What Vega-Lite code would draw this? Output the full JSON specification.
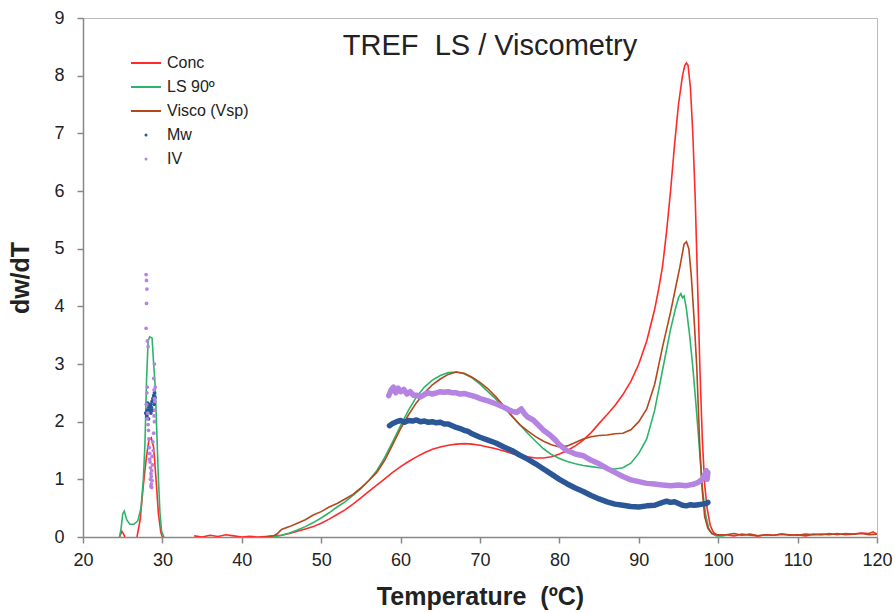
{
  "$schema": "https://vega.github.io/schema/vega-lite/v6.json",
  "width": 794,
  "height": 519,
  "autosize": {"type": "none"},
  "padding": {"left": 83, "top": 18, "right": 18, "bottom": 76},
  "background": "white",
  "config": {
    "view": {"stroke": "#bbbbbb", "strokeWidth": 1},
    "font": "Liberation Sans"
  },
  "title": {
    "text": "TREF\u00a0 LS / Viscometry",
    "offset": -52,
    "dx": 10,
    "fontSize": 29,
    "fontWeight": "normal",
    "font": "Liberation Sans",
    "color": "#222222",
    "anchor": "middle"
  },
  "datasets": {
    "curves": [
      {"s": "Conc", "g": "a0", "T": 24.6, "v": 0.0},
      {"s": "Conc", "g": "a0", "T": 24.9, "v": 0.1},
      {"s": "Conc", "g": "a0", "T": 25.3, "v": 0.0},
      {"s": "Conc", "g": "a", "T": 26.8, "v": 0.0},
      {"s": "Conc", "g": "a", "T": 27.2, "v": 0.3},
      {"s": "Conc", "g": "a", "T": 27.6, "v": 0.9},
      {"s": "Conc", "g": "a", "T": 28.0, "v": 1.4},
      {"s": "Conc", "g": "a", "T": 28.3, "v": 1.68},
      {"s": "Conc", "g": "a", "T": 28.6, "v": 1.72},
      {"s": "Conc", "g": "a", "T": 28.9, "v": 1.55},
      {"s": "Conc", "g": "a", "T": 29.2, "v": 1.0},
      {"s": "Conc", "g": "a", "T": 29.5, "v": 0.4},
      {"s": "Conc", "g": "a", "T": 29.8, "v": 0.08},
      {"s": "Conc", "g": "a", "T": 30.0, "v": 0.0},
      {"s": "Conc", "g": "b", "T": 34, "v": 0.02},
      {"s": "Conc", "g": "b", "T": 35, "v": 0.0},
      {"s": "Conc", "g": "b", "T": 36, "v": 0.03},
      {"s": "Conc", "g": "b", "T": 37, "v": 0.01},
      {"s": "Conc", "g": "b", "T": 38, "v": 0.04},
      {"s": "Conc", "g": "b", "T": 39, "v": 0.02},
      {"s": "Conc", "g": "b", "T": 40, "v": 0.0},
      {"s": "Conc", "g": "b", "T": 41, "v": 0.01},
      {"s": "Conc", "g": "b", "T": 42, "v": 0.0},
      {"s": "Conc", "g": "b", "T": 43, "v": 0.01},
      {"s": "Conc", "g": "b", "T": 44, "v": 0.02},
      {"s": "Conc", "g": "b", "T": 45, "v": 0.03},
      {"s": "Conc", "g": "b", "T": 46, "v": 0.06},
      {"s": "Conc", "g": "b", "T": 47, "v": 0.1},
      {"s": "Conc", "g": "b", "T": 48, "v": 0.14},
      {"s": "Conc", "g": "b", "T": 49, "v": 0.18},
      {"s": "Conc", "g": "b", "T": 50, "v": 0.24},
      {"s": "Conc", "g": "b", "T": 51, "v": 0.31},
      {"s": "Conc", "g": "b", "T": 52, "v": 0.39},
      {"s": "Conc", "g": "b", "T": 53, "v": 0.47},
      {"s": "Conc", "g": "b", "T": 54, "v": 0.57},
      {"s": "Conc", "g": "b", "T": 55, "v": 0.68},
      {"s": "Conc", "g": "b", "T": 56, "v": 0.79},
      {"s": "Conc", "g": "b", "T": 57, "v": 0.9},
      {"s": "Conc", "g": "b", "T": 58, "v": 1.01},
      {"s": "Conc", "g": "b", "T": 59, "v": 1.12},
      {"s": "Conc", "g": "b", "T": 60, "v": 1.22},
      {"s": "Conc", "g": "b", "T": 61, "v": 1.31},
      {"s": "Conc", "g": "b", "T": 62, "v": 1.39},
      {"s": "Conc", "g": "b", "T": 63, "v": 1.46},
      {"s": "Conc", "g": "b", "T": 64, "v": 1.52},
      {"s": "Conc", "g": "b", "T": 65, "v": 1.56},
      {"s": "Conc", "g": "b", "T": 66, "v": 1.59},
      {"s": "Conc", "g": "b", "T": 67, "v": 1.61},
      {"s": "Conc", "g": "b", "T": 68, "v": 1.62},
      {"s": "Conc", "g": "b", "T": 69, "v": 1.61},
      {"s": "Conc", "g": "b", "T": 70, "v": 1.59},
      {"s": "Conc", "g": "b", "T": 71, "v": 1.56},
      {"s": "Conc", "g": "b", "T": 72, "v": 1.53},
      {"s": "Conc", "g": "b", "T": 73, "v": 1.49},
      {"s": "Conc", "g": "b", "T": 74, "v": 1.45},
      {"s": "Conc", "g": "b", "T": 75, "v": 1.42},
      {"s": "Conc", "g": "b", "T": 76, "v": 1.39},
      {"s": "Conc", "g": "b", "T": 77, "v": 1.37},
      {"s": "Conc", "g": "b", "T": 78, "v": 1.37},
      {"s": "Conc", "g": "b", "T": 79, "v": 1.39},
      {"s": "Conc", "g": "b", "T": 80, "v": 1.44},
      {"s": "Conc", "g": "b", "T": 81, "v": 1.5},
      {"s": "Conc", "g": "b", "T": 82, "v": 1.58},
      {"s": "Conc", "g": "b", "T": 83, "v": 1.68},
      {"s": "Conc", "g": "b", "T": 84, "v": 1.81},
      {"s": "Conc", "g": "b", "T": 85, "v": 1.97},
      {"s": "Conc", "g": "b", "T": 86, "v": 2.12},
      {"s": "Conc", "g": "b", "T": 87, "v": 2.28},
      {"s": "Conc", "g": "b", "T": 88, "v": 2.47},
      {"s": "Conc", "g": "b", "T": 89, "v": 2.7},
      {"s": "Conc", "g": "b", "T": 90, "v": 3.0},
      {"s": "Conc", "g": "b", "T": 91, "v": 3.4},
      {"s": "Conc", "g": "b", "T": 92, "v": 3.95},
      {"s": "Conc", "g": "b", "T": 92.5, "v": 4.3},
      {"s": "Conc", "g": "b", "T": 93, "v": 4.7},
      {"s": "Conc", "g": "b", "T": 93.5, "v": 5.3},
      {"s": "Conc", "g": "b", "T": 94, "v": 6.0},
      {"s": "Conc", "g": "b", "T": 94.5, "v": 6.8},
      {"s": "Conc", "g": "b", "T": 95, "v": 7.5},
      {"s": "Conc", "g": "b", "T": 95.5, "v": 8.0},
      {"s": "Conc", "g": "b", "T": 95.8, "v": 8.18},
      {"s": "Conc", "g": "b", "T": 96.0, "v": 8.22},
      {"s": "Conc", "g": "b", "T": 96.2, "v": 8.18},
      {"s": "Conc", "g": "b", "T": 96.5, "v": 7.8},
      {"s": "Conc", "g": "b", "T": 96.8, "v": 7.0},
      {"s": "Conc", "g": "b", "T": 97.1, "v": 5.9},
      {"s": "Conc", "g": "b", "T": 97.4, "v": 4.4},
      {"s": "Conc", "g": "b", "T": 97.7, "v": 2.9},
      {"s": "Conc", "g": "b", "T": 98.0, "v": 1.7},
      {"s": "Conc", "g": "b", "T": 98.3, "v": 0.9},
      {"s": "Conc", "g": "b", "T": 98.6, "v": 0.5},
      {"s": "Conc", "g": "b", "T": 99.0, "v": 0.2},
      {"s": "Conc", "g": "b", "T": 99.4, "v": 0.08},
      {"s": "Conc", "g": "b", "T": 99.8, "v": 0.04},
      {"s": "Conc", "g": "b", "T": 101, "v": 0.04},
      {"s": "Conc", "g": "b", "T": 102, "v": 0.02},
      {"s": "Conc", "g": "b", "T": 103, "v": 0.05},
      {"s": "Conc", "g": "b", "T": 104, "v": 0.03},
      {"s": "Conc", "g": "b", "T": 105, "v": 0.02},
      {"s": "Conc", "g": "b", "T": 106, "v": 0.04},
      {"s": "Conc", "g": "b", "T": 107, "v": 0.03},
      {"s": "Conc", "g": "b", "T": 108, "v": 0.05},
      {"s": "Conc", "g": "b", "T": 109, "v": 0.03},
      {"s": "Conc", "g": "b", "T": 110, "v": 0.04},
      {"s": "Conc", "g": "b", "T": 111, "v": 0.02},
      {"s": "Conc", "g": "b", "T": 112, "v": 0.05},
      {"s": "Conc", "g": "b", "T": 113, "v": 0.04},
      {"s": "Conc", "g": "b", "T": 114, "v": 0.06},
      {"s": "Conc", "g": "b", "T": 115, "v": 0.04},
      {"s": "Conc", "g": "b", "T": 116, "v": 0.06},
      {"s": "Conc", "g": "b", "T": 117, "v": 0.05},
      {"s": "Conc", "g": "b", "T": 118, "v": 0.07},
      {"s": "Conc", "g": "b", "T": 119, "v": 0.06},
      {"s": "Conc", "g": "b", "T": 119.5, "v": 0.09},
      {"s": "Conc", "g": "b", "T": 120, "v": 0.05},

      {"s": "LS 90º", "g": "a", "T": 24.6, "v": 0.0},
      {"s": "LS 90º", "g": "a", "T": 24.8, "v": 0.15},
      {"s": "LS 90º", "g": "a", "T": 25.0, "v": 0.4},
      {"s": "LS 90º", "g": "a", "T": 25.2, "v": 0.45},
      {"s": "LS 90º", "g": "a", "T": 25.5, "v": 0.3},
      {"s": "LS 90º", "g": "a", "T": 25.9, "v": 0.22},
      {"s": "LS 90º", "g": "a", "T": 26.4, "v": 0.22},
      {"s": "LS 90º", "g": "a", "T": 26.9, "v": 0.28},
      {"s": "LS 90º", "g": "a", "T": 27.3, "v": 0.5},
      {"s": "LS 90º", "g": "a", "T": 27.6, "v": 1.0},
      {"s": "LS 90º", "g": "a", "T": 27.8, "v": 1.6},
      {"s": "LS 90º", "g": "a", "T": 28.0, "v": 2.7},
      {"s": "LS 90º", "g": "a", "T": 28.2, "v": 3.4},
      {"s": "LS 90º", "g": "a", "T": 28.4, "v": 3.47},
      {"s": "LS 90º", "g": "a", "T": 28.7, "v": 3.45},
      {"s": "LS 90º", "g": "a", "T": 28.9, "v": 3.0},
      {"s": "LS 90º", "g": "a", "T": 29.1, "v": 2.6},
      {"s": "LS 90º", "g": "a", "T": 29.3, "v": 1.8},
      {"s": "LS 90º", "g": "a", "T": 29.5, "v": 1.0},
      {"s": "LS 90º", "g": "a", "T": 29.7, "v": 0.4},
      {"s": "LS 90º", "g": "a", "T": 29.9, "v": 0.1},
      {"s": "LS 90º", "g": "a", "T": 30.2, "v": 0.0},
      {"s": "LS 90º", "g": "b", "T": 44, "v": 0.0},
      {"s": "LS 90º", "g": "b", "T": 45, "v": 0.03},
      {"s": "LS 90º", "g": "b", "T": 46, "v": 0.07},
      {"s": "LS 90º", "g": "b", "T": 47, "v": 0.12},
      {"s": "LS 90º", "g": "b", "T": 48, "v": 0.18},
      {"s": "LS 90º", "g": "b", "T": 49, "v": 0.25},
      {"s": "LS 90º", "g": "b", "T": 50, "v": 0.33},
      {"s": "LS 90º", "g": "b", "T": 51, "v": 0.42},
      {"s": "LS 90º", "g": "b", "T": 52, "v": 0.52},
      {"s": "LS 90º", "g": "b", "T": 53, "v": 0.61},
      {"s": "LS 90º", "g": "b", "T": 54, "v": 0.72},
      {"s": "LS 90º", "g": "b", "T": 55, "v": 0.84},
      {"s": "LS 90º", "g": "b", "T": 56, "v": 0.98},
      {"s": "LS 90º", "g": "b", "T": 57, "v": 1.15},
      {"s": "LS 90º", "g": "b", "T": 58, "v": 1.38},
      {"s": "LS 90º", "g": "b", "T": 59, "v": 1.65},
      {"s": "LS 90º", "g": "b", "T": 60, "v": 1.93},
      {"s": "LS 90º", "g": "b", "T": 61, "v": 2.2},
      {"s": "LS 90º", "g": "b", "T": 62, "v": 2.43},
      {"s": "LS 90º", "g": "b", "T": 63, "v": 2.6},
      {"s": "LS 90º", "g": "b", "T": 64, "v": 2.72},
      {"s": "LS 90º", "g": "b", "T": 65, "v": 2.8},
      {"s": "LS 90º", "g": "b", "T": 66, "v": 2.85},
      {"s": "LS 90º", "g": "b", "T": 67, "v": 2.86},
      {"s": "LS 90º", "g": "b", "T": 68, "v": 2.83},
      {"s": "LS 90º", "g": "b", "T": 69, "v": 2.76},
      {"s": "LS 90º", "g": "b", "T": 70, "v": 2.65},
      {"s": "LS 90º", "g": "b", "T": 71, "v": 2.52},
      {"s": "LS 90º", "g": "b", "T": 72, "v": 2.39},
      {"s": "LS 90º", "g": "b", "T": 73, "v": 2.25},
      {"s": "LS 90º", "g": "b", "T": 74, "v": 2.1},
      {"s": "LS 90º", "g": "b", "T": 75, "v": 1.95},
      {"s": "LS 90º", "g": "b", "T": 76, "v": 1.8},
      {"s": "LS 90º", "g": "b", "T": 77, "v": 1.66},
      {"s": "LS 90º", "g": "b", "T": 78, "v": 1.53},
      {"s": "LS 90º", "g": "b", "T": 79, "v": 1.43},
      {"s": "LS 90º", "g": "b", "T": 80, "v": 1.36},
      {"s": "LS 90º", "g": "b", "T": 81, "v": 1.31},
      {"s": "LS 90º", "g": "b", "T": 82, "v": 1.27},
      {"s": "LS 90º", "g": "b", "T": 83, "v": 1.24},
      {"s": "LS 90º", "g": "b", "T": 84, "v": 1.22},
      {"s": "LS 90º", "g": "b", "T": 85, "v": 1.2},
      {"s": "LS 90º", "g": "b", "T": 86, "v": 1.19},
      {"s": "LS 90º", "g": "b", "T": 87, "v": 1.18},
      {"s": "LS 90º", "g": "b", "T": 88, "v": 1.2},
      {"s": "LS 90º", "g": "b", "T": 89, "v": 1.28},
      {"s": "LS 90º", "g": "b", "T": 90, "v": 1.45},
      {"s": "LS 90º", "g": "b", "T": 91, "v": 1.7},
      {"s": "LS 90º", "g": "b", "T": 92, "v": 2.2},
      {"s": "LS 90º", "g": "b", "T": 93, "v": 2.9},
      {"s": "LS 90º", "g": "b", "T": 94, "v": 3.6},
      {"s": "LS 90º", "g": "b", "T": 94.6, "v": 3.95},
      {"s": "LS 90º", "g": "b", "T": 95.0, "v": 4.15},
      {"s": "LS 90º", "g": "b", "T": 95.3, "v": 4.22},
      {"s": "LS 90º", "g": "b", "T": 95.5, "v": 4.15},
      {"s": "LS 90º", "g": "b", "T": 95.7, "v": 4.18},
      {"s": "LS 90º", "g": "b", "T": 96.0, "v": 3.95},
      {"s": "LS 90º", "g": "b", "T": 96.4, "v": 3.5},
      {"s": "LS 90º", "g": "b", "T": 96.8, "v": 2.95},
      {"s": "LS 90º", "g": "b", "T": 97.2, "v": 2.3},
      {"s": "LS 90º", "g": "b", "T": 97.6, "v": 1.6},
      {"s": "LS 90º", "g": "b", "T": 98.0, "v": 0.85},
      {"s": "LS 90º", "g": "b", "T": 98.4, "v": 0.4},
      {"s": "LS 90º", "g": "b", "T": 98.8, "v": 0.15},
      {"s": "LS 90º", "g": "b", "T": 99.2, "v": 0.06},
      {"s": "LS 90º", "g": "b", "T": 99.8, "v": 0.02},
      {"s": "LS 90º", "g": "b", "T": 100.5, "v": 0.02},
      {"s": "LS 90º", "g": "b", "T": 101, "v": 0.03},

      {"s": "Visco (Vsp)", "g": "b", "T": 43, "v": 0.0},
      {"s": "Visco (Vsp)", "g": "b", "T": 44, "v": 0.02},
      {"s": "Visco (Vsp)", "g": "b", "T": 44.5, "v": 0.06},
      {"s": "Visco (Vsp)", "g": "b", "T": 45, "v": 0.13},
      {"s": "Visco (Vsp)", "g": "b", "T": 46, "v": 0.18},
      {"s": "Visco (Vsp)", "g": "b", "T": 47, "v": 0.24},
      {"s": "Visco (Vsp)", "g": "b", "T": 48, "v": 0.3},
      {"s": "Visco (Vsp)", "g": "b", "T": 49, "v": 0.38},
      {"s": "Visco (Vsp)", "g": "b", "T": 50, "v": 0.44},
      {"s": "Visco (Vsp)", "g": "b", "T": 51, "v": 0.52},
      {"s": "Visco (Vsp)", "g": "b", "T": 52, "v": 0.58},
      {"s": "Visco (Vsp)", "g": "b", "T": 53, "v": 0.66},
      {"s": "Visco (Vsp)", "g": "b", "T": 54, "v": 0.74},
      {"s": "Visco (Vsp)", "g": "b", "T": 55, "v": 0.85},
      {"s": "Visco (Vsp)", "g": "b", "T": 56, "v": 0.98},
      {"s": "Visco (Vsp)", "g": "b", "T": 57, "v": 1.12},
      {"s": "Visco (Vsp)", "g": "b", "T": 58, "v": 1.33},
      {"s": "Visco (Vsp)", "g": "b", "T": 59, "v": 1.6},
      {"s": "Visco (Vsp)", "g": "b", "T": 60, "v": 1.88},
      {"s": "Visco (Vsp)", "g": "b", "T": 61, "v": 2.12},
      {"s": "Visco (Vsp)", "g": "b", "T": 62, "v": 2.33},
      {"s": "Visco (Vsp)", "g": "b", "T": 63, "v": 2.5},
      {"s": "Visco (Vsp)", "g": "b", "T": 64, "v": 2.64},
      {"s": "Visco (Vsp)", "g": "b", "T": 65, "v": 2.74},
      {"s": "Visco (Vsp)", "g": "b", "T": 66, "v": 2.82},
      {"s": "Visco (Vsp)", "g": "b", "T": 67, "v": 2.86},
      {"s": "Visco (Vsp)", "g": "b", "T": 68, "v": 2.84},
      {"s": "Visco (Vsp)", "g": "b", "T": 69, "v": 2.77},
      {"s": "Visco (Vsp)", "g": "b", "T": 70, "v": 2.68},
      {"s": "Visco (Vsp)", "g": "b", "T": 71, "v": 2.57},
      {"s": "Visco (Vsp)", "g": "b", "T": 72, "v": 2.43},
      {"s": "Visco (Vsp)", "g": "b", "T": 73, "v": 2.27},
      {"s": "Visco (Vsp)", "g": "b", "T": 74, "v": 2.1},
      {"s": "Visco (Vsp)", "g": "b", "T": 75, "v": 1.95},
      {"s": "Visco (Vsp)", "g": "b", "T": 76, "v": 1.84},
      {"s": "Visco (Vsp)", "g": "b", "T": 77, "v": 1.74},
      {"s": "Visco (Vsp)", "g": "b", "T": 78, "v": 1.66},
      {"s": "Visco (Vsp)", "g": "b", "T": 79, "v": 1.6},
      {"s": "Visco (Vsp)", "g": "b", "T": 80, "v": 1.56},
      {"s": "Visco (Vsp)", "g": "b", "T": 81, "v": 1.58},
      {"s": "Visco (Vsp)", "g": "b", "T": 82, "v": 1.64},
      {"s": "Visco (Vsp)", "g": "b", "T": 83, "v": 1.7},
      {"s": "Visco (Vsp)", "g": "b", "T": 84, "v": 1.74},
      {"s": "Visco (Vsp)", "g": "b", "T": 85, "v": 1.76},
      {"s": "Visco (Vsp)", "g": "b", "T": 86, "v": 1.77},
      {"s": "Visco (Vsp)", "g": "b", "T": 87, "v": 1.79},
      {"s": "Visco (Vsp)", "g": "b", "T": 88, "v": 1.8},
      {"s": "Visco (Vsp)", "g": "b", "T": 89, "v": 1.86},
      {"s": "Visco (Vsp)", "g": "b", "T": 90, "v": 2.0},
      {"s": "Visco (Vsp)", "g": "b", "T": 91, "v": 2.22},
      {"s": "Visco (Vsp)", "g": "b", "T": 92, "v": 2.65},
      {"s": "Visco (Vsp)", "g": "b", "T": 93, "v": 3.3},
      {"s": "Visco (Vsp)", "g": "b", "T": 94, "v": 3.9},
      {"s": "Visco (Vsp)", "g": "b", "T": 94.6, "v": 4.3},
      {"s": "Visco (Vsp)", "g": "b", "T": 95.2, "v": 4.7},
      {"s": "Visco (Vsp)", "g": "b", "T": 95.7, "v": 5.08},
      {"s": "Visco (Vsp)", "g": "b", "T": 96.0, "v": 5.12},
      {"s": "Visco (Vsp)", "g": "b", "T": 96.3, "v": 5.0},
      {"s": "Visco (Vsp)", "g": "b", "T": 96.6, "v": 4.55},
      {"s": "Visco (Vsp)", "g": "b", "T": 97.0, "v": 3.7},
      {"s": "Visco (Vsp)", "g": "b", "T": 97.3, "v": 2.95},
      {"s": "Visco (Vsp)", "g": "b", "T": 97.7, "v": 1.5},
      {"s": "Visco (Vsp)", "g": "b", "T": 98.0, "v": 0.8},
      {"s": "Visco (Vsp)", "g": "b", "T": 98.3, "v": 0.35},
      {"s": "Visco (Vsp)", "g": "b", "T": 98.7, "v": 0.15},
      {"s": "Visco (Vsp)", "g": "b", "T": 99.2, "v": 0.06},
      {"s": "Visco (Vsp)", "g": "b", "T": 100, "v": 0.03},
      {"s": "Visco (Vsp)", "g": "b", "T": 101, "v": 0.04},
      {"s": "Visco (Vsp)", "g": "b", "T": 102, "v": 0.06},
      {"s": "Visco (Vsp)", "g": "b", "T": 103, "v": 0.03},
      {"s": "Visco (Vsp)", "g": "b", "T": 104, "v": 0.05},
      {"s": "Visco (Vsp)", "g": "b", "T": 105, "v": 0.02},
      {"s": "Visco (Vsp)", "g": "b", "T": 106, "v": 0.04},
      {"s": "Visco (Vsp)", "g": "b", "T": 107, "v": 0.03},
      {"s": "Visco (Vsp)", "g": "b", "T": 108, "v": 0.05},
      {"s": "Visco (Vsp)", "g": "b", "T": 109, "v": 0.04},
      {"s": "Visco (Vsp)", "g": "b", "T": 110, "v": 0.03},
      {"s": "Visco (Vsp)", "g": "b", "T": 111, "v": 0.05},
      {"s": "Visco (Vsp)", "g": "b", "T": 112, "v": 0.04},
      {"s": "Visco (Vsp)", "g": "b", "T": 113, "v": 0.05},
      {"s": "Visco (Vsp)", "g": "b", "T": 114, "v": 0.04},
      {"s": "Visco (Vsp)", "g": "b", "T": 115, "v": 0.06},
      {"s": "Visco (Vsp)", "g": "b", "T": 116, "v": 0.04},
      {"s": "Visco (Vsp)", "g": "b", "T": 117, "v": 0.05},
      {"s": "Visco (Vsp)", "g": "b", "T": 118, "v": 0.06},
      {"s": "Visco (Vsp)", "g": "b", "T": 119, "v": 0.04},
      {"s": "Visco (Vsp)", "g": "b", "T": 120, "v": 0.05}
    ],
    "bands": [
      {"s": "Mw", "T": 58.6, "v": 1.93},
      {"s": "Mw", "T": 59.0, "v": 1.97},
      {"s": "Mw", "T": 59.5, "v": 2.0},
      {"s": "Mw", "T": 60.0, "v": 2.02},
      {"s": "Mw", "T": 60.5, "v": 1.99},
      {"s": "Mw", "T": 61.0, "v": 2.02},
      {"s": "Mw", "T": 61.5, "v": 2.01},
      {"s": "Mw", "T": 62.0, "v": 2.03},
      {"s": "Mw", "T": 62.5, "v": 2.0},
      {"s": "Mw", "T": 63.0, "v": 2.01},
      {"s": "Mw", "T": 63.5, "v": 1.99},
      {"s": "Mw", "T": 64.0, "v": 2.0},
      {"s": "Mw", "T": 64.5, "v": 1.98},
      {"s": "Mw", "T": 65.0, "v": 1.99},
      {"s": "Mw", "T": 65.5, "v": 1.96},
      {"s": "Mw", "T": 66.0, "v": 1.96},
      {"s": "Mw", "T": 66.5, "v": 1.93},
      {"s": "Mw", "T": 67.0, "v": 1.9},
      {"s": "Mw", "T": 67.5, "v": 1.88},
      {"s": "Mw", "T": 68.0, "v": 1.85},
      {"s": "Mw", "T": 68.5, "v": 1.83},
      {"s": "Mw", "T": 69.0, "v": 1.79},
      {"s": "Mw", "T": 69.5, "v": 1.76},
      {"s": "Mw", "T": 70, "v": 1.73},
      {"s": "Mw", "T": 71, "v": 1.68},
      {"s": "Mw", "T": 72, "v": 1.63},
      {"s": "Mw", "T": 73, "v": 1.56},
      {"s": "Mw", "T": 74, "v": 1.5},
      {"s": "Mw", "T": 75, "v": 1.42},
      {"s": "Mw", "T": 76, "v": 1.35},
      {"s": "Mw", "T": 77, "v": 1.27},
      {"s": "Mw", "T": 78, "v": 1.18},
      {"s": "Mw", "T": 79, "v": 1.09},
      {"s": "Mw", "T": 80, "v": 1.0},
      {"s": "Mw", "T": 81, "v": 0.92},
      {"s": "Mw", "T": 82, "v": 0.85},
      {"s": "Mw", "T": 83, "v": 0.79},
      {"s": "Mw", "T": 84, "v": 0.72},
      {"s": "Mw", "T": 85, "v": 0.66},
      {"s": "Mw", "T": 86, "v": 0.61},
      {"s": "Mw", "T": 87, "v": 0.57},
      {"s": "Mw", "T": 88, "v": 0.55},
      {"s": "Mw", "T": 89, "v": 0.53},
      {"s": "Mw", "T": 90, "v": 0.52},
      {"s": "Mw", "T": 91, "v": 0.54},
      {"s": "Mw", "T": 92, "v": 0.55},
      {"s": "Mw", "T": 93, "v": 0.6},
      {"s": "Mw", "T": 93.5, "v": 0.62},
      {"s": "Mw", "T": 94, "v": 0.6},
      {"s": "Mw", "T": 94.5, "v": 0.61},
      {"s": "Mw", "T": 95, "v": 0.58},
      {"s": "Mw", "T": 95.5, "v": 0.55},
      {"s": "Mw", "T": 96, "v": 0.54},
      {"s": "Mw", "T": 96.5, "v": 0.56},
      {"s": "Mw", "T": 97, "v": 0.55},
      {"s": "Mw", "T": 97.5, "v": 0.56},
      {"s": "Mw", "T": 98, "v": 0.57},
      {"s": "Mw", "T": 98.5, "v": 0.58},
      {"s": "Mw", "T": 98.7, "v": 0.6},

      {"s": "IV", "T": 58.5, "v": 2.45},
      {"s": "IV", "T": 58.8, "v": 2.55},
      {"s": "IV", "T": 59.1, "v": 2.6},
      {"s": "IV", "T": 59.4, "v": 2.5},
      {"s": "IV", "T": 59.7, "v": 2.58},
      {"s": "IV", "T": 60.0, "v": 2.52},
      {"s": "IV", "T": 60.4, "v": 2.56},
      {"s": "IV", "T": 60.8, "v": 2.48},
      {"s": "IV", "T": 61.2, "v": 2.52},
      {"s": "IV", "T": 61.6, "v": 2.46},
      {"s": "IV", "T": 62.0, "v": 2.46},
      {"s": "IV", "T": 62.5, "v": 2.43},
      {"s": "IV", "T": 63.0, "v": 2.47},
      {"s": "IV", "T": 63.5, "v": 2.5},
      {"s": "IV", "T": 64.0, "v": 2.48},
      {"s": "IV", "T": 64.5, "v": 2.5},
      {"s": "IV", "T": 65.0, "v": 2.52},
      {"s": "IV", "T": 65.5, "v": 2.51},
      {"s": "IV", "T": 66.0, "v": 2.52},
      {"s": "IV", "T": 66.5, "v": 2.5},
      {"s": "IV", "T": 67.0, "v": 2.5},
      {"s": "IV", "T": 67.5, "v": 2.48},
      {"s": "IV", "T": 68.0, "v": 2.49},
      {"s": "IV", "T": 68.5, "v": 2.47},
      {"s": "IV", "T": 69.0, "v": 2.45},
      {"s": "IV", "T": 69.5, "v": 2.43},
      {"s": "IV", "T": 70, "v": 2.4},
      {"s": "IV", "T": 71, "v": 2.36},
      {"s": "IV", "T": 72, "v": 2.31},
      {"s": "IV", "T": 73, "v": 2.25},
      {"s": "IV", "T": 74, "v": 2.18},
      {"s": "IV", "T": 74.6, "v": 2.16},
      {"s": "IV", "T": 75.2, "v": 2.22},
      {"s": "IV", "T": 75.6, "v": 2.14},
      {"s": "IV", "T": 76, "v": 2.08},
      {"s": "IV", "T": 76.7, "v": 2.03},
      {"s": "IV", "T": 77.5, "v": 1.92},
      {"s": "IV", "T": 78, "v": 1.85},
      {"s": "IV", "T": 78.8, "v": 1.77},
      {"s": "IV", "T": 79.5, "v": 1.68},
      {"s": "IV", "T": 80, "v": 1.6},
      {"s": "IV", "T": 80.9, "v": 1.5},
      {"s": "IV", "T": 81.5, "v": 1.47},
      {"s": "IV", "T": 82, "v": 1.44},
      {"s": "IV", "T": 83, "v": 1.41},
      {"s": "IV", "T": 84, "v": 1.33},
      {"s": "IV", "T": 85, "v": 1.27},
      {"s": "IV", "T": 86, "v": 1.19},
      {"s": "IV", "T": 87, "v": 1.12},
      {"s": "IV", "T": 88, "v": 1.05},
      {"s": "IV", "T": 89, "v": 0.99},
      {"s": "IV", "T": 90, "v": 0.96},
      {"s": "IV", "T": 91, "v": 0.93},
      {"s": "IV", "T": 92, "v": 0.92},
      {"s": "IV", "T": 93, "v": 0.9},
      {"s": "IV", "T": 94, "v": 0.89},
      {"s": "IV", "T": 95, "v": 0.9},
      {"s": "IV", "T": 96, "v": 0.89},
      {"s": "IV", "T": 97, "v": 0.92},
      {"s": "IV", "T": 97.5, "v": 0.95},
      {"s": "IV", "T": 98, "v": 1.0},
      {"s": "IV", "T": 98.3, "v": 1.08},
      {"s": "IV", "T": 98.5, "v": 1.15},
      {"s": "IV", "T": 98.6, "v": 1.0},
      {"s": "IV", "T": 98.7, "v": 1.12}
    ],
    "dots": [
      {"s": "Mw", "T": 27.9, "v": 2.15},
      {"s": "Mw", "T": 28.0, "v": 2.3},
      {"s": "Mw", "T": 28.05, "v": 2.1},
      {"s": "Mw", "T": 28.1, "v": 2.2},
      {"s": "Mw", "T": 28.15, "v": 2.32},
      {"s": "Mw", "T": 28.2, "v": 2.18},
      {"s": "Mw", "T": 28.25, "v": 2.05},
      {"s": "Mw", "T": 28.3, "v": 2.25},
      {"s": "Mw", "T": 28.4, "v": 2.2},
      {"s": "Mw", "T": 28.45, "v": 2.28},
      {"s": "Mw", "T": 28.5, "v": 2.3},
      {"s": "Mw", "T": 28.55, "v": 2.15},
      {"s": "Mw", "T": 28.6, "v": 2.25},
      {"s": "Mw", "T": 28.7, "v": 2.35},
      {"s": "Mw", "T": 28.75, "v": 2.2},
      {"s": "Mw", "T": 28.8, "v": 2.4},
      {"s": "Mw", "T": 28.9, "v": 2.45},
      {"s": "Mw", "T": 28.95, "v": 2.3},
      {"s": "Mw", "T": 29.0, "v": 2.5},
      {"s": "Mw", "T": 29.05, "v": 2.42},
      {"s": "IV", "T": 27.95, "v": 4.55},
      {"s": "IV", "T": 28.0, "v": 4.45},
      {"s": "IV", "T": 28.05, "v": 4.3},
      {"s": "IV", "T": 28.0, "v": 4.05},
      {"s": "IV", "T": 27.95, "v": 3.62},
      {"s": "IV", "T": 28.1, "v": 3.4},
      {"s": "IV", "T": 28.2, "v": 3.3},
      {"s": "IV", "T": 29.0, "v": 3.0},
      {"s": "IV", "T": 28.9, "v": 2.75},
      {"s": "IV", "T": 28.1, "v": 2.6},
      {"s": "IV", "T": 28.95, "v": 2.55},
      {"s": "IV", "T": 29.0, "v": 2.4},
      {"s": "IV", "T": 28.0, "v": 2.3},
      {"s": "IV", "T": 29.05, "v": 2.2},
      {"s": "IV", "T": 28.1, "v": 2.05},
      {"s": "IV", "T": 28.2, "v": 1.95},
      {"s": "IV", "T": 29.0, "v": 2.0},
      {"s": "IV", "T": 28.25, "v": 1.85},
      {"s": "IV", "T": 28.9, "v": 1.8},
      {"s": "IV", "T": 28.3, "v": 1.7},
      {"s": "IV", "T": 28.8, "v": 1.65},
      {"s": "IV", "T": 28.35, "v": 1.55},
      {"s": "IV", "T": 28.85, "v": 1.5},
      {"s": "IV", "T": 28.4, "v": 1.45},
      {"s": "IV", "T": 28.7, "v": 1.4},
      {"s": "IV", "T": 28.45, "v": 1.3},
      {"s": "IV", "T": 28.75, "v": 1.25},
      {"s": "IV", "T": 28.5, "v": 1.2},
      {"s": "IV", "T": 28.65, "v": 1.15},
      {"s": "IV", "T": 28.55, "v": 1.1},
      {"s": "IV", "T": 28.6, "v": 1.05},
      {"s": "IV", "T": 28.5, "v": 1.0},
      {"s": "IV", "T": 28.7, "v": 0.98},
      {"s": "IV", "T": 28.6, "v": 0.92},
      {"s": "IV", "T": 28.55, "v": 0.88},
      {"s": "IV", "T": 28.65, "v": 0.86},
      {"s": "IV", "T": 28.4, "v": 1.35},
      {"s": "IV", "T": 28.95, "v": 2.1},
      {"s": "IV", "T": 29.05, "v": 2.35},
      {"s": "IV", "T": 28.15, "v": 2.15},
      {"s": "IV", "T": 29.1, "v": 2.6},
      {"s": "IV", "T": 28.05, "v": 2.5}
    ]
  },
  "layer": [
    {
      "data": {"name": "curves"},
      "mark": {"type": "line", "strokeWidth": 1.6, "clip": true},
      "encoding": {
        "x": {
          "field": "T", "type": "quantitative",
          "scale": {"domain": [20, 120], "nice": false},
          "axis": {
            "title": "Temperature\u00a0 (ºC)",
            "values": [20, 30, 40, 50, 60, 70, 80, 90, 100, 110, 120],
            "format": "d",
            "grid": false,
            "domainColor": "#888888", "domainWidth": 1.5,
            "tickColor": "#888888", "tickSize": 6, "tickWidth": 1.5,
            "labelFont": "Liberation Sans", "labelFontSize": 18, "labelColor": "#222222", "labelPadding": 8,
            "labelFlush": false,
            "titleFont": "Liberation Sans", "titleFontSize": 25, "titleFontWeight": "bold", "titleColor": "#222222", "titlePadding": 15
          }
        },
        "y": {
          "field": "v", "type": "quantitative",
          "scale": {"domain": [0, 9], "nice": false},
          "axis": {
            "title": "dw/dT",
            "values": [0, 1, 2, 3, 4, 5, 6, 7, 8, 9],
            "format": "d",
            "grid": false,
            "domainColor": "#888888", "domainWidth": 1.5,
            "tickColor": "#888888", "tickSize": 6, "tickWidth": 1.5,
            "labelFont": "Liberation Sans", "labelFontSize": 18, "labelColor": "#222222", "labelPadding": 13,
            "labelFlush": false,
            "titleFont": "Liberation Sans", "titleFontSize": 25, "titleFontWeight": "bold", "titleColor": "#222222", "titlePadding": 20
          }
        },
        "color": {
          "field": "s", "type": "nominal",
          "scale": {
            "domain": ["Conc", "LS 90º", "Visco (Vsp)", "Mw", "IV"],
            "range": ["#ff2a2a", "#2db46c", "#b4481c", "#2b5797", "#b583e2"]
          },
          "legend": {
            "title": null,
            "orient": "none",
            "legendX": 47,
            "legendY": 29,
            "symbolType": "stroke",
            "symbolSize": 100,
            "symbolStrokeWidth": 2,
            "labelFont": "Liberation Sans",
            "labelFontSize": 16,
            "labelColor": "#222222",
            "labelOffset": 5,
            "rowPadding": -13,
            "encode": {
              "symbols": {
                "update": {
                  "shape": {"signal": "((datum.value === 'Mw' || datum.value === 'IV') ? 'circle' : 'stroke')"},
                  "size": {"signal": "((datum.value === 'Mw' || datum.value === 'IV') ? 9 : 900)"},
                  "fill": {"signal": "(datum.value === 'Mw' ? '#2b5797' : (datum.value === 'IV' ? '#b583e2' : 'transparent'))"},
                  "stroke": {"signal": "(datum.value === 'Conc' ? '#ff2a2a' : (datum.value === 'LS 90º' ? '#2db46c' : (datum.value === 'Visco (Vsp)' ? '#b4481c' : 'transparent')))"},
                  "strokeWidth": {"signal": "((datum.value === 'Mw' || datum.value === 'IV') ? 0 : 2)"},
                  "opacity": {"value": 1}
                }
              }
            }
          }
        },
        "detail": {"field": "g", "type": "nominal"}
      }
    },
    {
      "data": {"name": "bands"},
      "mark": {"type": "line", "strokeWidth": 5.5, "strokeCap": "round", "strokeJoin": "round"},
      "encoding": {
        "x": {"field": "T", "type": "quantitative"},
        "y": {"field": "v", "type": "quantitative"},
        "color": {"field": "s", "type": "nominal"}
      }
    },
    {
      "data": {"name": "dots"},
      "mark": {"type": "circle", "size": 14, "opacity": 1},
      "encoding": {
        "x": {"field": "T", "type": "quantitative"},
        "y": {"field": "v", "type": "quantitative"},
        "color": {"field": "s", "type": "nominal"}
      }
    }
  ]
}
